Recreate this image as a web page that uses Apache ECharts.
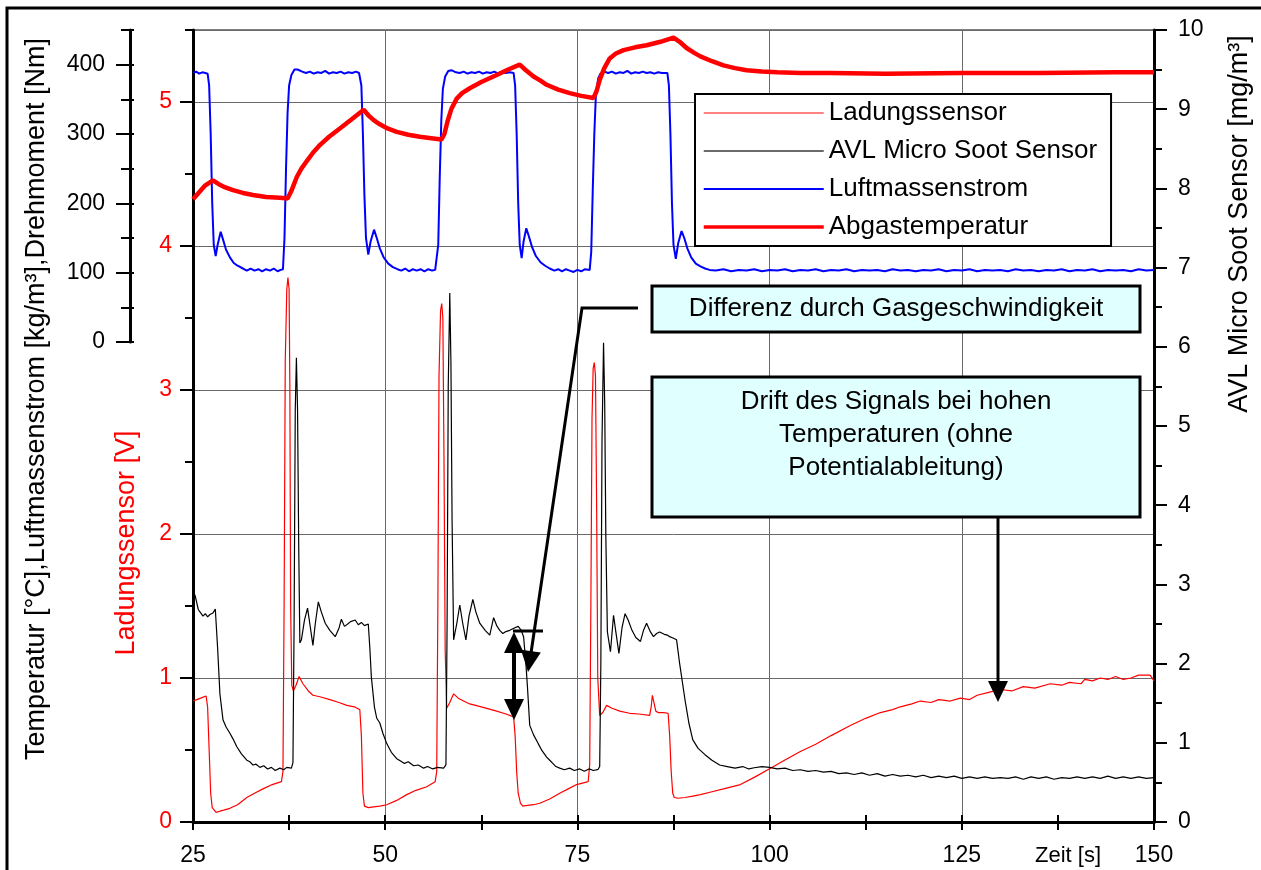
<!DOCTYPE html>
<html>
<head>
<meta charset="utf-8">
<script src="https://cdn.jsdelivr.net/npm/echarts@6/dist/echarts.min.js"></script>
<style>
  html, body { margin: 0; padding: 0; background: #fff; }
  #chart { width: 1261px; height: 870px; }
</style>
</head>
<body>
<div id="chart"></div>
<script>
// ---- series names ----
const seriesNames = ['Ladungssensor', 'AVL Micro Soot Sensor', 'Luftmassenstrom', 'Abgastemperatur'];

// ---- tick values ----
const zeitMinorTicks = [37.5, 62.5, 87.5, 112.5, 137.5];
const zeitAllTicks = [25, 37.5, 50, 62.5, 75, 87.5, 100, 112.5, 125, 137.5, 150];
const ladungMinorTicks = [0.5, 1.5, 2.5, 3.5, 4.5, 5.5];
const sootMinorTicks = [0.5, 1.5, 2.5, 3.5, 4.5, 5.5, 6.5, 7.5, 8.5, 9.5];
const upperMajorTicks = [0, 100, 200, 300, 400];
const upperMinorTicks = [50, 150, 250, 350, 450];
const upperAllTicks = [0, 50, 100, 150, 200, 250, 300, 350, 400, 450];

// ---- Ladungssensor [V] : [Zeit s, Spannung] ----
const ladungssensor = [
[25,0.84],[25.5,0.85],[26.0,0.86],[26.7,0.875],[26.9,0.8],[27.1,0.5],[27.3,0.2],[27.5,0.1],[28.0,0.067],[28.5,0.075],[29.0,0.082],
[29.8,0.095],[30.8,0.12],[32.0,0.17],[33.0,0.2],[34.1,0.23],[35.3,0.26],[36.5,0.28],[36.7,0.35],[36.85,1.5],[37.0,3.2],[37.2,3.7],
[37.35,3.78],[37.5,3.7],[37.6,3.0],[37.7,1.5],[37.85,0.95],[38.05,0.91],[38.4,0.95],[38.8,1.01],[39.3,0.96],[40.0,0.91],[40.6,0.88],
[41.5,0.87],[42.8,0.85],[44.0,0.83],[45.0,0.81],[46.0,0.8],[46.7,0.78],[46.9,0.6],[47.1,0.2],[47.3,0.11],[47.8,0.10],[48.5,0.105],
[49.3,0.11],[50.2,0.12],[51.5,0.15],[52.8,0.19],[54.0,0.22],[55.4,0.245],[56.5,0.28],[56.7,0.35],[56.85,1.5],[57.0,3.1],[57.2,3.55],
[57.35,3.6],[57.5,3.5],[57.65,2.5],[57.8,1.2],[58.0,0.79],[58.4,0.83],[58.9,0.89],[59.5,0.86],[60.2,0.84],[61.0,0.82],[62.5,0.8],
[64.5,0.77],[65.7,0.75],[66.7,0.73],[66.9,0.6],[67.1,0.35],[67.3,0.2],[67.6,0.13],[67.9,0.11],[68.5,0.115],[69.3,0.12],[70.1,0.13],
[71.4,0.16],[72.7,0.2],[73.8,0.23],[74.9,0.26],[76.4,0.28],[76.6,0.4],[76.75,1.5],[76.9,2.8],[77.05,3.15],[77.2,3.19],[77.35,3.1],
[77.5,2.2],[77.65,1.0],[77.9,0.74],[78.3,0.76],[78.8,0.81],[79.5,0.79],[80.5,0.77],[81.8,0.755],[83.0,0.75],[84.4,0.74],[84.6,0.8],
[84.75,0.88],[85.0,0.87],[85.2,0.77],[85.5,0.76],[86.2,0.76],[86.8,0.755],[87.0,0.6],[87.2,0.35],[87.4,0.2],[87.6,0.17],[88.1,0.165],
[89.0,0.17],[90.0,0.18],[91.0,0.19],[92.5,0.21],[94.0,0.23],[96.2,0.26],[98.0,0.31],[100,0.37],[102,0.43],[104,0.49],[106,0.54],
[108,0.6],[110.5,0.67],[112.5,0.72],[114.4,0.76],[116,0.78],[117,0.8],[118.5,0.82],[119.6,0.84],[121,0.83],[122,0.85],[123.5,0.84],
[124.8,0.86],[126,0.85],[127,0.88],[128.5,0.9],[130,0.92],[131.5,0.91],[133,0.94],[134.5,0.93],[136.5,0.96],[138,0.95],[139,0.97],
[140.5,0.96],[141,0.99],[142,0.98],[143,1.0],[144,0.99],[145,1.01],[146,0.99],[147,1.0],[148,1.02],[149.5,1.02],[150,0.98]
];

// ---- AVL Micro Soot Sensor [mg/m³] ----
const avlSoot = [
[25,2.92],[25.3,2.85],[25.7,2.68],[26.0,2.64],[26.3,2.6],[26.6,2.63],[26.9,2.59],[27.2,2.62],[27.6,2.64],[27.9,2.69],[28.2,2.2],
[28.5,1.62],[28.9,1.29],[29.3,1.2],[29.8,1.12],[30.2,1.05],[30.7,0.95],[31.3,0.86],[32.0,0.78],[32.4,0.76],[32.8,0.72],[33.2,0.73],
[33.7,0.69],[34.2,0.71],[34.7,0.67],[35.2,0.69],[35.7,0.65],[36.3,0.68],[36.8,0.66],[37.2,0.69],[37.8,0.68],[38.0,0.75],[38.15,2.5],
[38.3,5.2],[38.45,5.86],[38.6,5.2],[38.75,3.5],[38.9,2.26],[39.1,2.3],[39.5,2.55],[39.9,2.70],[40.2,2.5],[40.6,2.23],[40.9,2.5],
[41.3,2.78],[41.7,2.65],[42.2,2.51],[42.8,2.42],[43.5,2.34],[44.0,2.45],[44.3,2.56],[44.7,2.47],[45.0,2.49],[45.5,2.53],[46.1,2.55],
[46.5,2.49],[46.9,2.52],[47.3,2.48],[47.8,2.5],[48.0,2.2],[48.2,1.83],[48.6,1.45],[48.9,1.31],[49.3,1.25],[49.7,1.12],[50.2,0.99],
[50.8,0.88],[51.5,0.8],[52.0,0.77],[52.5,0.74],[53.0,0.76],[53.7,0.71],[54.3,0.72],[55.0,0.68],[55.5,0.7],[56.2,0.67],[56.8,0.69],
[57.6,0.68],[57.9,0.72],[58.05,2.5],[58.2,5.5],[58.4,6.68],[58.55,5.8],[58.7,3.8],[58.9,2.30],[59.3,2.5],[59.7,2.74],[60.1,2.5],
[60.5,2.30],[60.9,2.6],[61.4,2.81],[61.8,2.65],[62.3,2.51],[63.0,2.42],[63.6,2.36],[64.1,2.58],[64.5,2.48],[64.9,2.42],[65.3,2.38],
[65.6,2.40],[66.2,2.42],[66.8,2.45],[67.3,2.47],[67.7,2.42],[68.0,2.34],[68.3,2.0],[68.5,1.71],[68.8,1.22],[69.3,1.1],[69.9,0.99],
[70.4,0.9],[71.0,0.82],[71.5,0.77],[71.8,0.74],[72.2,0.7],[72.7,0.68],[73.3,0.66],[74,0.68],[74.6,0.65],[75.3,0.67],[75.9,0.64],
[76.5,0.67],[77.1,0.65],[77.7,0.665],[77.9,0.7],[78.05,2.0],[78.2,4.8],[78.4,6.05],[78.55,5.3],[78.7,3.6],[78.9,2.4],[79.3,2.15],
[79.7,2.61],[80.0,2.4],[80.4,2.13],[80.8,2.45],[81.2,2.63],[81.6,2.55],[82.1,2.42],[82.6,2.33],[83.2,2.28],[83.6,2.42],[84.0,2.51],
[84.5,2.4],[84.9,2.34],[85.3,2.38],[85.7,2.40],[86.3,2.37],[86.7,2.36],[87.0,2.34],[87.5,2.32],[87.9,2.30],[88.3,2.0],[89.0,1.54],
[89.5,1.25],[90.0,1.04],[90.7,0.93],[91.6,0.85],[92.5,0.78],[93.5,0.72],[94.5,0.7],[95.5,0.68],[96.5,0.7],[97.3,0.67],[98,0.685],
[99,0.7],[100,0.69],[101,0.67],[102,0.68],[103,0.65],[104,0.66],[105,0.64],[106,0.65],[107,0.63],[108,0.64],[109,0.61],[110,0.62],
[111,0.6],[112,0.62],[113,0.59],[114,0.61],[115,0.58],[116,0.6],[117,0.58],[118,0.59],[119,0.57],[120,0.59],[121,0.56],[122,0.58],
[123,0.56],[124,0.58],[125,0.55],[126,0.57],[127,0.55],[128,0.57],[129,0.55],[130,0.56],[131,0.55],[132,0.57],[133,0.54],[134,0.57],
[135,0.55],[136,0.57],[137,0.54],[138,0.56],[139,0.55],[140,0.57],[141,0.55],[142,0.57],[143,0.55],[144,0.58],[145,0.55],[146,0.57],
[147,0.55],[148,0.57],[149,0.55],[150,0.56]
];

// ---- Luftmassenstrom (upper axis) ----
const luftmassenstrom = [
[25.0,388],[25.4,390],[25.8,387],[26.2,389],[26.6,388],[26.9,387],[27.1,370],[27.3,300],[27.5,200],[27.7,140],[27.95,124],[28.2,140],
[28.6,159],[28.9,148],[29.3,133],[29.8,122],[30.3,114],[30.8,110],[31.5,106],[32.0,103],[32.5,106],[33.0,103],[33.5,105],[34.0,102],
[34.5,105],[35.0,103],[35.5,106],[36.0,102],[36.4,104],[36.7,105],[36.9,150],[37.1,250],[37.3,330],[37.5,370],[37.8,385],[38.2,393],
[38.6,393],[39.2,390],[39.7,388],[40.2,390],[40.7,387],[41.2,389],[41.7,388],[42.2,391],[42.7,387],[43.2,389],[43.7,388],[44.2,390],
[44.7,387],[45.2,389],[45.7,388],[46.2,390],[46.6,388],[46.9,370],[47.1,300],[47.3,210],[47.5,150],[47.8,126],[48.1,145],[48.55,162],
[48.9,150],[49.3,135],[49.8,122],[50.4,113],[51.0,108],[51.6,105],[52.1,103],[52.6,106],[53.1,102],[53.6,105],[54.1,103],[54.6,105],
[55.1,102],[55.6,105],[56.1,103],[56.5,104],[56.7,105],[56.9,140],[57.1,240],[57.3,320],[57.5,365],[57.8,383],[58.2,391],[58.6,392],
[59.2,389],[59.7,388],[60.2,390],[60.7,387],[61.2,389],[61.7,388],[62.2,390],[62.7,387],[63.2,389],[63.7,388],[64.2,390],[64.7,387],
[65.2,389],[65.7,388],[66.2,389],[66.7,388],[66.9,370],[67.1,300],[67.3,200],[67.5,140],[67.75,121],[68.0,145],[68.35,164],[68.7,152],
[69.1,137],[69.6,124],[70.2,115],[70.8,110],[71.4,106],[72.0,103],[72.5,105],[73.0,102],[73.5,105],[74.0,103],[74.5,101],[75.0,104],
[75.5,102],[76.0,105],[76.6,104],[76.8,130],[77.0,220],[77.2,300],[77.4,355],[77.7,380],[78.0,387],[78.5,390],[79.0,388],[79.5,390],
[80.0,387],[80.5,389],[81.0,388],[81.5,391],[82.0,387],[82.5,389],[83.0,388],[83.5,390],[84.0,388],[84.5,389],[85.0,387],[85.5,389],
[86.0,388],[86.7,388],[86.9,370],[87.1,300],[87.3,200],[87.5,140],[87.8,120],[88.1,142],[88.55,160],[88.9,150],[89.3,135],[89.8,122],
[90.4,113],[91.0,109],[91.6,106],[92.2,104],[93,103],[94,105],[95,102],[96,104],[97,103],[98,105],[99,102],[100,104],[101,103],
[102,105],[103,102],[104,104],[105,103],[106,105],[107,102],[108,104],[109,103],[110,105],[111,102],[112,104],[113,103],[114,104],
[115,102],[116,105],[117,103],[118,104],[119,102],[120,104],[121,103],[122,105],[123,102],[124,104],[125,103],[126,105],[127,102],
[128,104],[129,103],[130,104],[131,102],[132,105],[133,103],[134,104],[135,102],[136,104],[137,103],[138,105],[139,102],[140,104],
[141,103],[142,105],[143,102],[144,104],[145,103],[146,104],[147,102],[148,105],[149,103],[150,104]
];

// ---- Abgastemperatur [°C] (upper axis) ----
const abgastemperatur = [
[25,206],[25.8,216],[26.6,226],[27.6,233],[28.3,228],[29.2,223],[30.2,219],[31.5,215],[32.8,212],[34.5,209],[36.3,208],[37.3,207],
[37.8,218],[38.5,238],[39.1,250],[39.8,261],[40.6,273],[41.5,284],[42.7,296],[44.1,308],[45.6,321],[47.2,335],[47.8,327],[48.5,320],
[49.3,314],[50.3,308],[51.5,303],[53.0,299],[54.5,296],[56.0,294],[57.3,292],[57.7,300],[58.1,318],[58.6,336],[59.3,351],[60.0,359],
[61.0,366],[62.5,375],[64.5,385],[66.0,393],[67.5,400],[68.3,392],[69.3,383],[70.2,377],[71.0,371],[72.5,364],[74.0,359],[75.5,355],
[77.1,352],[77.5,362],[77.9,378],[78.5,395],[79.2,409],[80.0,416],[81.0,421],[82.5,425],[84.0,428],[85.8,433],[87.5,439],[88.3,433],
[89.2,424],[90.2,417],[91.0,412],[92.5,405],[94.0,399],[95.5,395],[97.0,392],[99,390],[101,389],[104,388],[108,388],[115,387],
[125,388],[135,388],[145,389],[150,389]
];

// ---- drawing ----
const FONT = '"Liberation Sans", Arial, Helvetica, sans-serif';
const RED = '#ff0000';
const BLUE = '#0000ff';
const GRIDLINE = '#6a6a6a';

const chart = echarts.init(document.getElementById('chart'), null, { renderer: 'canvas' });

const hidden = { show: false };
function tickOnlyAxis(extra) {
  return Object.assign({
    type: 'value',
    axisLine: { show: false, onZero: false },
    axisLabel: hidden,
    splitLine: hidden,
    silent: true
  }, extra);
}

const legendLineWidths = [1.6, 1.4, 2, 3.5];
const legendLineColors = ['#ff5a5a', '#3a3a3a', BLUE, RED];

const option = {
  animation: false,
  backgroundColor: '#ffffff',
  textStyle: { fontFamily: FONT },
  grid: [
    { left: 193, right: 107, top: 30, bottom: 48, show: true, borderColor: '#000', borderWidth: 1, backgroundColor: 'transparent' },
    { left: 193, right: 107, top: 30, bottom: 528, show: false }
  ],
  xAxis: [
    {
      type: 'value', gridIndex: 0, position: 'bottom', min: 25, max: 150, interval: 25,
      axisLine: { show: true, onZero: false, lineStyle: { color: '#000', width: 3 } },
      axisTick: { show: true, length: 8, lineStyle: { color: '#000', width: 2 } },
      axisLabel: { fontSize: 23, color: '#000', margin: 22, fontFamily: FONT },
      splitLine: { show: true, lineStyle: { color: GRIDLINE, width: 1 } }
    },
    tickOnlyAxis({ gridIndex: 0, position: 'bottom', min: 25, max: 150,
      axisTick: { show: true, length: 8, customValues: zeitMinorTicks, lineStyle: { color: '#000', width: 2 } } }),
    tickOnlyAxis({ gridIndex: 0, position: 'bottom', min: 25, max: 150,
      axisTick: { show: true, inside: true, length: 7, customValues: zeitAllTicks, lineStyle: { color: '#000', width: 2 } } }),
    { type: 'value', gridIndex: 1, min: 25, max: 150, show: false }
  ],
  yAxis: [
    // Ladungssensor [V]
    {
      type: 'value', gridIndex: 0, position: 'left', min: 0, max: 5.5, interval: 1,
      axisLine: { show: true, onZero: false, lineStyle: { color: '#000', width: 3 } },
      axisTick: { show: true, length: 13, lineStyle: { color: '#000', width: 2 } },
      axisLabel: { fontSize: 23, color: RED, margin: 21, showMaxLabel: false, fontFamily: FONT },
      splitLine: { show: true, lineStyle: { color: GRIDLINE, width: 1 } }
    },
    tickOnlyAxis({ gridIndex: 0, position: 'left', min: 0, max: 5.5,
      axisTick: { show: true, length: 8, customValues: ladungMinorTicks, lineStyle: { color: '#000', width: 2 } } }),
    // AVL Micro Soot Sensor [mg/m³]
    {
      type: 'value', gridIndex: 0, position: 'right', min: 0, max: 10, interval: 1,
      axisLine: { show: true, onZero: false, lineStyle: { color: '#000', width: 3 } },
      axisTick: { show: true, length: 13, lineStyle: { color: '#000', width: 2 } },
      axisLabel: { fontSize: 23, color: '#000', margin: 24, fontFamily: FONT },
      splitLine: hidden
    },
    tickOnlyAxis({ gridIndex: 0, position: 'right', min: 0, max: 10,
      axisTick: { show: true, length: 8, customValues: sootMinorTicks, lineStyle: { color: '#000', width: 2 } } }),
    // Temperatur / Luftmassenstrom / Drehmoment
    {
      type: 'value', gridIndex: 1, position: 'left', offset: 63, min: 0, max: 450,
      axisLine: { show: true, onZero: false, lineStyle: { color: '#000', width: 3 } },
      axisTick: { show: true, length: 14, customValues: upperMajorTicks, lineStyle: { color: '#000', width: 2 } },
      axisLabel: { fontSize: 23, color: '#000', margin: 25, customValues: upperMajorTicks, fontFamily: FONT },
      splitLine: hidden
    },
    tickOnlyAxis({ gridIndex: 1, position: 'left', offset: 63, min: 0, max: 450,
      axisTick: { show: true, length: 9, customValues: upperMinorTicks, lineStyle: { color: '#000', width: 2 } } }),
    tickOnlyAxis({ gridIndex: 1, position: 'left', offset: 63, min: 0, max: 450,
      axisTick: { show: true, inside: true, length: 4, customValues: upperAllTicks, lineStyle: { color: '#000', width: 2 } } })
  ],
  legend: {
    data: seriesNames.map((name, i) => ({
      name: name,
      lineStyle: { width: legendLineWidths[i], color: legendLineColors[i] }
    })),
    orient: 'vertical',
    left: 695, top: 94,
    itemWidth: 120, itemHeight: 14, itemGap: 10,
    padding: [5, 14, 5, 7],
    backgroundColor: '#ffffff',
    borderColor: '#000', borderWidth: 2,
    itemStyle: { opacity: 0 },
    textStyle: { fontSize: 26, color: '#000', lineHeight: 28, fontFamily: FONT },
    selectedMode: false
  },
  series: [
    { name: seriesNames[0], type: 'line', xAxisIndex: 0, yAxisIndex: 0, data: ladungssensor,
      symbol: 'none', lineStyle: { color: RED, width: 1.2 }, itemStyle: { color: RED }, z: 3 },
    { name: seriesNames[1], type: 'line', xAxisIndex: 0, yAxisIndex: 2, data: avlSoot,
      symbol: 'none', lineStyle: { color: '#000', width: 1.2 }, itemStyle: { color: '#000' }, z: 4 },
    { name: seriesNames[2], type: 'line', xAxisIndex: 3, yAxisIndex: 4, data: luftmassenstrom,
      symbol: 'none', lineStyle: { color: BLUE, width: 2 }, itemStyle: { color: BLUE }, z: 5 },
    { name: seriesNames[3], type: 'line', xAxisIndex: 3, yAxisIndex: 4, data: abgastemperatur,
      symbol: 'none', lineStyle: { color: RED, width: 4.5 }, itemStyle: { color: RED }, z: 6 }
  ],
  graphic: [
    // outer frame
    { type: 'rect', z: 1, silent: true, shape: { x: 7, y: 8, width: 1300, height: 900 },
      style: { fill: 'none', stroke: '#000', lineWidth: 3 } },
    // axis titles
    { type: 'text', z: 10, x: 37, y: 399, rotation: Math.PI / 2,
      style: { text: 'Temperatur [°C],Luftmassenstrom [kg/m³],Drehmoment [Nm]', fontSize: 27, fontFamily: FONT,
        fill: '#000', align: 'center', verticalAlign: 'middle' } },
    { type: 'text', z: 10, x: 127, y: 543, rotation: Math.PI / 2,
      style: { text: 'Ladungssensor [V]', fontSize: 27, fontFamily: FONT, fill: RED, align: 'center', verticalAlign: 'middle' } },
    { type: 'text', z: 10, x: 1240, y: 224, rotation: Math.PI / 2,
      style: { text: 'AVL Micro Soot Sensor [mg/m³]', fontSize: 27, fontFamily: FONT, fill: '#000', align: 'center', verticalAlign: 'middle' } },
    { type: 'text', z: 10, x: 1035, y: 856,
      style: { text: 'Zeit [s]', fontSize: 22, fontFamily: FONT, fill: '#000', align: 'left', verticalAlign: 'middle' } },

    // note: Differenz durch Gasgeschwindigkeit
    { type: 'rect', z: 50, shape: { x: 652, y: 286, width: 488, height: 46 },
      style: { fill: '#e0ffff', stroke: '#000', lineWidth: 3 } },
    { type: 'text', z: 51, x: 896, y: 309,
      style: { text: 'Differenz durch Gasgeschwindigkeit', fontSize: 26, fontFamily: FONT, fill: '#000', align: 'center', verticalAlign: 'middle' } },
    { type: 'polyline', z: 50, shape: { points: [[638, 308], [582, 308], [531, 653]] },
      style: { stroke: '#000', lineWidth: 3, fill: 'none' } },
    { type: 'polygon', z: 50, shape: { points: [[528, 672], [540.8, 652.5], [521.0, 649.8]] },
      style: { fill: '#000' } },
    // double arrow and level marker
    { type: 'line', z: 50, shape: { x1: 513, y1: 631, x2: 543, y2: 631 }, style: { stroke: '#000', lineWidth: 3 } },
    { type: 'line', z: 50, shape: { x1: 514, y1: 650, x2: 514, y2: 702 }, style: { stroke: '#000', lineWidth: 4 } },
    { type: 'polygon', z: 50, shape: { points: [[514, 632], [524, 653], [504, 653]] }, style: { fill: '#000' } },
    { type: 'polygon', z: 50, shape: { points: [[514, 720], [524, 699], [504, 699]] }, style: { fill: '#000' } },

    // note: Drift des Signals
    { type: 'rect', z: 50, shape: { x: 652, y: 377, width: 488, height: 140 },
      style: { fill: '#e0ffff', stroke: '#000', lineWidth: 3 } },
    { type: 'text', z: 51, x: 896, y: 435,
      style: { text: 'Drift des Signals bei hohen\nTemperaturen (ohne\nPotentialableitung)', fontSize: 26, lineHeight: 33,
        fontFamily: FONT, fill: '#000', align: 'center', verticalAlign: 'middle' } },
    { type: 'line', z: 50, shape: { x1: 998, y1: 518, x2: 998, y2: 684 }, style: { stroke: '#000', lineWidth: 3 } },
    { type: 'polygon', z: 50, shape: { points: [[998, 702], [1008, 681], [988, 681]] }, style: { fill: '#000' } }
  ]
};

chart.setOption(option);
</script>
</body>
</html>
